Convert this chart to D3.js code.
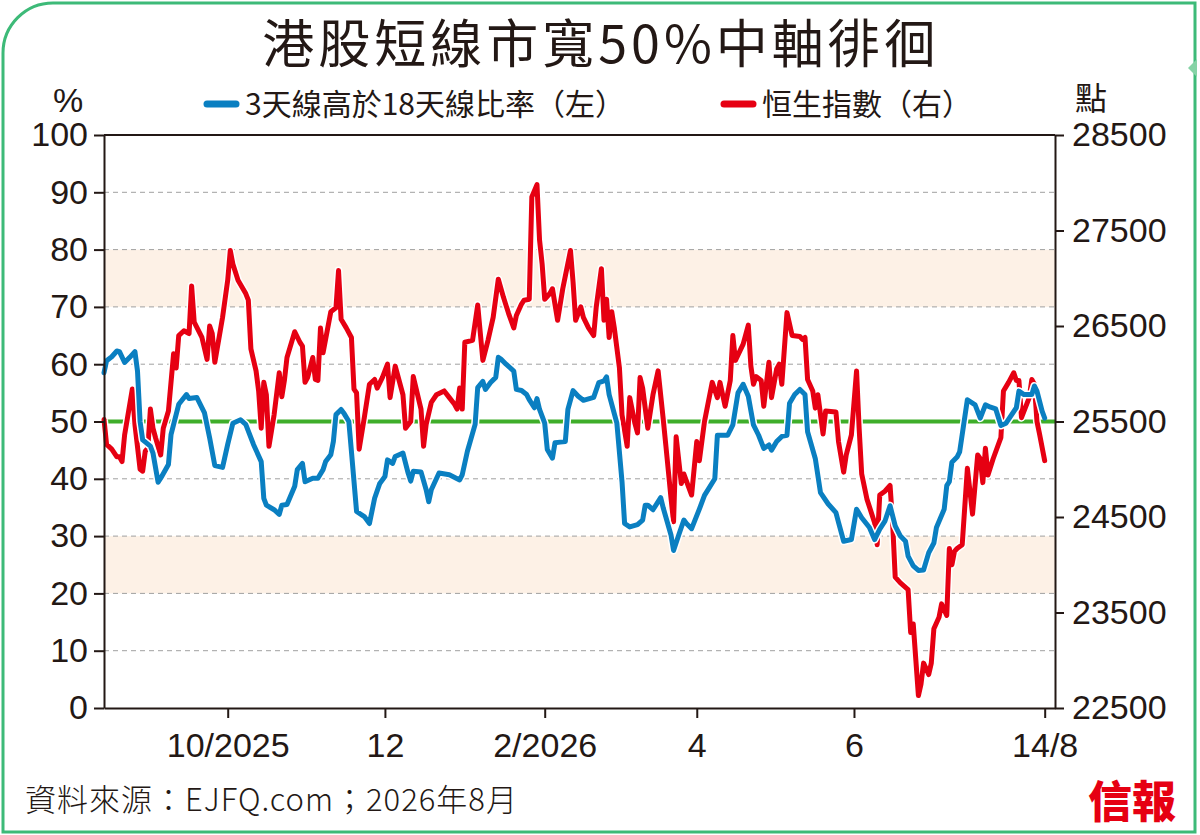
<!DOCTYPE html>
<html>
<head>
<meta charset="utf-8">
<script src="https://cdn.jsdelivr.net/npm/d3@7"></script>
<style>
  body { margin: 0; background: #fff; }
</style>
</head>
<body>
<svg id="chart"></svg>
<script>
// 港股短線市寬 vs 恒指

var titleText = '港股短線市寬50%中軸徘徊';
var legendNames = ['3天線高於18天線比率（左）', '恒生指數（右）'];
var sourceText = '資料來源：EJFQ.com；2026年8月';

var leftTicks = [0, 10, 20, 30, 40, 50, 60, 70, 80, 90, 100];
var rightTicks = [22500, 23500, 24500, 25500, 26500, 27500, 28500];
var xTickDates = ['2025-10-01', '2025-12-01', '2026-02-01', '2026-04-01', '2026-06-01', '2026-08-14'];
var xTickLabels = ['10/2025', '12', '2/2026', '4', '6', '14/8'];
var bands = [[20, 30], [70, 80]];
var midLine = 50;

// 3天線高於18天線比率 (%)
var ratioData = [
  ['2025-08-14',58.5],['2025-08-15',60.6],['2025-08-17',61.3],['2025-08-19',62.3],['2025-08-20',62.2],
  ['2025-08-22',60.3],['2025-08-24',61.2],['2025-08-26',62.2],['2025-08-27',58.8],['2025-08-28',50.0],
  ['2025-08-29',46.8],['2025-09-01',45.7],['2025-09-02',44.5],['2025-09-04',39.4],['2025-09-05',40.1],
  ['2025-09-08',42.5],['2025-09-09',47.7],['2025-09-12',53.0],['2025-09-15',54.7],['2025-09-16',54.0],
  ['2025-09-19',54.2],['2025-09-22',51.5],['2025-09-24',47.1],['2025-09-26',42.3],['2025-09-29',42.0],
  ['2025-10-01',46.0],['2025-10-03',49.7],['2025-10-06',50.3],['2025-10-08',49.5],['2025-10-11',46.0],
  ['2025-10-14',43.0],['2025-10-15',36.6],['2025-10-16',35.4],['2025-10-19',34.6],['2025-10-21',33.8],
  ['2025-10-22',35.4],['2025-10-24',35.5],['2025-10-27',38.7],['2025-10-28',41.6],['2025-10-30',42.7],
  ['2025-10-31',39.5],['2025-11-03',40.1],['2025-11-05',40.1],['2025-11-07',41.6],['2025-11-08',43.0],
  ['2025-11-10',44.2],['2025-11-11',46.5],['2025-11-12',51.2],['2025-11-14',52.1],['2025-11-15',51.5],
  ['2025-11-17',50.0],['2025-11-18',44.8],['2025-11-20',34.3],['2025-11-23',33.4],['2025-11-25',32.2],
  ['2025-11-27',36.6],['2025-11-29',39.2],['2025-12-01',40.4],['2025-12-02',43.3],['2025-12-04',42.7],
  ['2025-12-05',43.9],['2025-12-08',44.5],['2025-12-10',41.0],['2025-12-11',39.6],['2025-12-12',41.3],
  ['2025-12-15',41.2],['2025-12-17',38.1],['2025-12-18',36.0],['2025-12-19',38.1],['2025-12-22',41.0],
  ['2025-12-26',40.7],['2025-12-30',39.8],['2025-12-31',40.7],['2026-01-02',44.8],['2026-01-05',49.5],
  ['2026-01-06',55.9],['2026-01-08',57.0],['2026-01-09',55.6],['2026-01-11',56.8],['2026-01-13',57.7],
  ['2026-01-14',61.2],['2026-01-15',60.9],['2026-01-17',60.0],['2026-01-20',58.8],['2026-01-21',55.6],
  ['2026-01-23',55.4],['2026-01-25',54.7],['2026-01-26',53.8],['2026-01-28',52.4],['2026-01-29',54.0],
  ['2026-01-30',52.1],['2026-02-01',49.7],['2026-02-02',45.1],['2026-02-04',43.6],['2026-02-05',46.3],
  ['2026-02-07',46.4],['2026-02-09',46.5],['2026-02-10',52.1],['2026-02-12',55.4],['2026-02-14',54.4],
  ['2026-02-16',53.7],['2026-02-20',54.2],['2026-02-22',56.8],['2026-02-24',57.1],['2026-02-25',57.8],
  ['2026-02-26',54.7],['2026-03-01',49.7],['2026-03-03',39.5],['2026-03-04',32.2],['2026-03-06',31.6],
  ['2026-03-09',32.0],['2026-03-11',32.8],['2026-03-12',35.4],['2026-03-13',35.4],['2026-03-15',34.6],
  ['2026-03-18',36.7],['2026-03-19',34.9],['2026-03-22',30.2],['2026-03-23',27.5],['2026-03-25',30.2],
  ['2026-03-27',32.8],['2026-03-28',32.2],['2026-03-30',31.3],['2026-04-02',34.7],['2026-04-04',37.1],
  ['2026-04-08',40.0],['2026-04-09',47.6],['2026-04-13',47.6],['2026-04-15',49.4],['2026-04-17',55.0],
  ['2026-04-19',56.5],['2026-04-21',54.4],['2026-04-23',49.4],['2026-04-25',47.6],['2026-04-27',45.3],
  ['2026-04-29',45.9],['2026-04-30',45.0],['2026-05-02',46.5],['2026-05-04',47.4],['2026-05-06',47.6],
  ['2026-05-07',53.2],['2026-05-09',54.7],['2026-05-11',55.6],['2026-05-13',54.7],['2026-05-14',48.2],
  ['2026-05-17',43.5],['2026-05-19',37.6],['2026-05-22',35.6],['2026-05-25',34.1],['2026-05-26',32.4],
  ['2026-05-28',29.1],['2026-05-31',29.4],['2026-06-02',34.7],['2026-06-04',33.2],['2026-06-07',31.5],
  ['2026-06-09',29.4],['2026-06-11',31.2],['2026-06-13',32.6],['2026-06-15',35.3],['2026-06-17',31.8],
  ['2026-06-19',30.0],['2026-06-21',29.1],['2026-06-22',26.5],['2026-06-24',24.8],['2026-06-26',24.0],
  ['2026-06-28',24.1],['2026-06-30',27.1],['2026-07-02',28.8],['2026-07-03',31.5],['2026-07-06',34.7],
  ['2026-07-07',38.8],['2026-07-08',39.5],['2026-07-09',42.9],['2026-07-11',43.8],['2026-07-12',44.7],
  ['2026-07-15',53.8],['2026-07-18',52.9],['2026-07-20',50.6],['2026-07-22',52.9],['2026-07-24',52.5],
  ['2026-07-26',52.2],['2026-07-28',49.3],['2026-07-30',49.7],['2026-08-03',52.4],['2026-08-04',55.3],
  ['2026-08-06',54.7],['2026-08-09',54.7],['2026-08-10',56.2],['2026-08-11',55.3],['2026-08-13',51.8],
  ['2026-08-14',50.6]
];

// 恒生指數 (點)
var hsiData = [
  ['2025-08-14',25520],['2025-08-15',25260],['2025-08-17',25210],['2025-08-19',25130],['2025-08-20',25130],
  ['2025-08-21',25080],['2025-08-22',25360],['2025-08-25',25840],['2025-08-26',25470],['2025-08-28',25000],
  ['2025-08-29',24980],['2025-08-30',25190],['2025-08-31',25220],['2025-09-01',25630],['2025-09-02',25430],
  ['2025-09-03',25330],['2025-09-05',25150],['2025-09-06',25430],['2025-09-08',25610],['2025-09-10',26210],
  ['2025-09-11',26060],['2025-09-12',26400],['2025-09-14',26450],['2025-09-16',26420],['2025-09-17',26920],
  ['2025-09-18',26540],['2025-09-21',26380],['2025-09-23',26150],['2025-09-24',26500],['2025-09-25',26420],
  ['2025-09-26',26120],['2025-09-29',26590],['2025-10-01',26980],['2025-10-02',27290],['2025-10-03',27150],
  ['2025-10-05',26980],['2025-10-08',26840],['2025-10-09',26770],['2025-10-10',26260],['2025-10-12',26030],
  ['2025-10-13',25820],['2025-10-14',25430],['2025-10-15',25910],['2025-10-16',25780],['2025-10-17',25240],
  ['2025-10-19',25570],['2025-10-21',26010],['2025-10-22',25760],['2025-10-23',25930],['2025-10-24',26170],
  ['2025-10-27',26440],['2025-10-29',26330],['2025-10-30',26290],['2025-10-31',25910],['2025-11-01',25960],
  ['2025-11-03',26170],['2025-11-04',25940],['2025-11-05',25930],['2025-11-06',26480],['2025-11-07',26220],
  ['2025-11-10',26650],['2025-11-12',26690],['2025-11-13',27080],['2025-11-14',26570],['2025-11-16',26480],
  ['2025-11-18',26380],['2025-11-19',25840],['2025-11-20',25800],['2025-11-21',25210],['2025-11-23',25540],
  ['2025-11-25',25890],['2025-11-27',25940],['2025-11-28',25850],['2025-11-30',25960],['2025-12-02',26100],
  ['2025-12-03',25750],['2025-12-05',26080],['2025-12-08',25780],['2025-12-09',25430],['2025-12-11',25500],
  ['2025-12-12',25970],['2025-12-15',25630],['2025-12-16',25240],['2025-12-17',25470],['2025-12-19',25700],
  ['2025-12-21',25780],['2025-12-24',25820],['2025-12-26',25750],['2025-12-28',25680],['2025-12-29',25630],
  ['2025-12-30',25850],['2025-12-31',25630],['2026-01-01',26330],['2026-01-04',26350],['2026-01-06',26720],
  ['2026-01-08',26140],['2026-01-10',26350],['2026-01-12',26590],['2026-01-14',26990],['2026-01-16',26800],
  ['2026-01-18',26630],['2026-01-20',26480],['2026-01-21',26610],['2026-01-23',26730],['2026-01-24',26770],
  ['2026-01-26',26780],['2026-01-27',27850],['2026-01-29',27980],['2026-01-30',27400],['2026-01-31',27150],
  ['2026-02-01',26780],['2026-02-03',26840],['2026-02-04',26890],['2026-02-06',26560],['2026-02-08',26890],
  ['2026-02-11',27290],['2026-02-12',26960],['2026-02-13',26560],['2026-02-15',26700],['2026-02-16',26590],
  ['2026-02-18',26480],['2026-02-20',26400],['2026-02-21',26700],['2026-02-23',27100],['2026-02-24',26560],
  ['2026-02-25',26780],['2026-02-26',26380],['2026-02-27',26650],['2026-02-28',26480],['2026-03-02',26060],
  ['2026-03-03',25570],['2026-03-05',25240],['2026-03-06',25750],['2026-03-08',25480],['2026-03-09',25380],
  ['2026-03-10',25960],['2026-03-11',25850],['2026-03-13',25430],['2026-03-15',25780],['2026-03-17',26030],
  ['2026-03-19',25520],['2026-03-20',25250],['2026-03-22',24700],['2026-03-23',24450],['2026-03-24',25340],
  ['2026-03-26',24850],['2026-03-27',24950],['2026-03-30',24730],['2026-04-01',25290],['2026-04-02',25090],
  ['2026-04-04',25500],['2026-04-07',25910],['2026-04-09',25750],['2026-04-10',25910],['2026-04-12',25660],
  ['2026-04-14',25930],['2026-04-15',26400],['2026-04-16',26140],['2026-04-19',26310],['2026-04-21',26510],
  ['2026-04-22',26080],['2026-04-23',25890],['2026-04-24',25970],['2026-04-26',25930],['2026-04-27',25660],
  ['2026-04-29',26120],['2026-04-30',25750],['2026-05-02',26050],['2026-05-03',26100],['2026-05-04',25890],
  ['2026-05-06',26640],['2026-05-08',26400],['2026-05-11',26390],['2026-05-12',26360],['2026-05-13',26380],
  ['2026-05-14',25940],['2026-05-16',25820],['2026-05-17',25640],['2026-05-18',25780],['2026-05-20',25370],
  ['2026-05-21',25610],['2026-05-25',25600],['2026-05-26',25290],['2026-05-28',24970],['2026-05-29',25150],
  ['2026-05-31',25360],['2026-06-02',26030],['2026-06-03',25430],['2026-06-04',24950],['2026-06-06',24690],
  ['2026-06-09',24440],['2026-06-10',24210],['2026-06-11',24730],['2026-06-13',24770],['2026-06-15',24830],
  ['2026-06-16',24440],['2026-06-17',23870],['2026-06-19',23810],['2026-06-22',23740],['2026-06-23',23290],
  ['2026-06-24',23380],['2026-06-26',22630],['2026-06-27',22750],['2026-06-28',22970],['2026-06-30',22850],
  ['2026-07-01',22970],['2026-07-02',23330],['2026-07-04',23450],['2026-07-05',23590],['2026-07-07',23470],
  ['2026-07-08',24170],['2026-07-09',24000],['2026-07-10',24140],['2026-07-11',24170],['2026-07-13',24210],
  ['2026-07-15',25010],['2026-07-17',24530],['2026-07-19',25150],['2026-07-20',25110],['2026-07-21',24860],
  ['2026-07-22',25220],['2026-07-23',24940],['2026-07-25',25110],['2026-07-28',25330],['2026-07-29',25820],
  ['2026-07-31',25910],['2026-08-02',26010],['2026-08-03',25930],['2026-08-04',25930],['2026-08-05',25540],
  ['2026-08-08',25750],['2026-08-09',25940],['2026-08-10',25890],['2026-08-11',25500],['2026-08-12',25370],
  ['2026-08-14',25090]
];

var width = 1200;
var height = 835;
var margin = {top: 135, right: 145, bottom: 127, left: 104};
var plotRight = width - margin.right;
var plotBottom = height - margin.bottom;

var ink = '#231815';
var blue = '#0a7fc1';
var red = '#e60012';
var green = '#3fae2a';
var frameGreen = '#3dba78';
var numFont = '"Liberation Sans", Arial, sans-serif';
var cjkFont = '"Noto Sans CJK TC", "Noto Sans CJK SC", sans-serif';

var parse = d3.timeParse('%Y-%m-%d');

var xScale = d3.scaleTime()
  .domain([parse('2025-08-14'), parse('2026-08-18')])
  .range([margin.left, plotRight]);

var yLeft = d3.scaleLinear()
  .domain([0, 100])
  .range([plotBottom, margin.top]);

var yRight = d3.scaleLinear()
  .domain([22500, 28500])
  .range([plotBottom, margin.top]);

var svg = d3.select('#chart')
  .attr('width', width)
  .attr('height', height);

svg.append('rect')
  .attr('width', width)
  .attr('height', height)
  .attr('fill', '#fff');

// outer frame, rounded top-left corner
var r = 50;
svg.append('path')
  .attr('d', 'M3,832 L3,' + (3 + r) + ' A' + r + ',' + r + ' 0 0 1 ' + (3 + r) + ',3 L1195,3 L1195,832 Z')
  .attr('fill', 'none')
  .attr('stroke', frameGreen)
  .attr('stroke-width', 3);

svg.append('path')
  .attr('d', 'M1197,59 L1188,68 L1197,77 Z')
  .attr('fill', '#86d3a6');

// bands
svg.selectAll('rect.band')
  .data(bands)
  .enter()
  .append('rect')
    .attr('class', 'band')
    .attr('x', margin.left)
    .attr('width', plotRight - margin.left)
    .attr('y', d => yLeft(d[1]))
    .attr('height', d => yLeft(d[0]) - yLeft(d[1]))
    .attr('fill', '#fdf1e6');

// grid
svg.selectAll('line.grid')
  .data(leftTicks.filter(d => d > 0 && d < 100 && d !== midLine))
  .enter()
  .append('line')
    .attr('class', 'grid')
    .attr('x1', margin.left)
    .attr('x2', plotRight)
    .attr('y1', d => yLeft(d))
    .attr('y2', d => yLeft(d))
    .attr('stroke', '#a0a0a0')
    .attr('stroke-width', 1)
    .attr('stroke-dasharray', '5,4');

svg.append('line')
  .attr('x1', margin.left)
  .attr('x2', plotRight)
  .attr('y1', yLeft(midLine))
  .attr('y2', yLeft(midLine))
  .attr('stroke', green)
  .attr('stroke-width', 4);

// lines
var ratioLine = d3.line()
  .x(d => xScale(parse(d[0])))
  .y(d => yLeft(d[1]));

var hsiLine = d3.line()
  .x(d => xScale(parse(d[0])))
  .y(d => yRight(d[1]));

function drawSeries(data, gen, colour) {
  svg.append('path')
    .datum(data)
    .attr('d', gen)
    .attr('fill', 'none')
    .attr('stroke', '#fff')
    .attr('stroke-width', 8)
    .attr('stroke-linejoin', 'round');
  svg.append('path')
    .datum(data)
    .attr('d', gen)
    .attr('fill', 'none')
    .attr('stroke', colour)
    .attr('stroke-width', 5)
    .attr('stroke-linejoin', 'round')
    .attr('stroke-linecap', 'round');
}

drawSeries(hsiData, hsiLine, red);
drawSeries(ratioData, ratioLine, blue);

// axes
function styleAxis(g) {
  g.selectAll('path.domain').attr('stroke', ink).attr('stroke-width', 2);
  g.selectAll('.tick line').attr('stroke', ink).attr('stroke-width', 2);
  g.selectAll('.tick text')
    .attr('fill', ink)
    .style('font-family', numFont)
    .style('font-size', '34px');
}

var leftAxis = svg.append('g')
  .attr('transform', 'translate(' + margin.left + ',0)')
  .call(d3.axisLeft(yLeft).tickValues(leftTicks).tickSize(10).tickSizeOuter(0).tickPadding(6));
styleAxis(leftAxis);

var rightAxis = svg.append('g')
  .attr('transform', 'translate(' + plotRight + ',0)')
  .call(d3.axisRight(yRight)
    .tickValues(rightTicks)
    .tickFormat(d3.format('d'))
    .tickSize(9)
    .tickSizeOuter(0)
    .tickPadding(8));
styleAxis(rightAxis);

var xAxis = svg.append('g')
  .attr('transform', 'translate(0,' + plotBottom + ')')
  .call(d3.axisBottom(xScale)
    .tickValues(xTickDates.map(parse))
    .tickFormat((d, i) => xTickLabels[i])
    .tickSize(10)
    .tickSizeOuter(0)
    .tickPadding(15));
styleAxis(xAxis);

svg.append('line')
  .attr('x1', margin.left)
  .attr('x2', plotRight)
  .attr('y1', margin.top)
  .attr('y2', margin.top)
  .attr('stroke', ink)
  .attr('stroke-width', 2);

// title
svg.append('text')
  .attr('x', 601)
  .attr('y', 63)
  .attr('text-anchor', 'middle')
  .style('font-family', cjkFont)
  .style('font-size', '52px')
  .style('letter-spacing', '4px')
  .attr('fill', ink)
  .text(titleText);

// unit labels
svg.append('text')
  .attr('x', 68)
  .attr('y', 112)
  .attr('text-anchor', 'middle')
  .style('font-family', numFont)
  .style('font-size', '34px')
  .attr('fill', ink)
  .text('%');

svg.append('text')
  .attr('x', 1075)
  .attr('y', 110)
  .style('font-family', cjkFont)
  .style('font-size', '32px')
  .attr('fill', ink)
  .text('點');

// legend
var legendItems = [
  {name: legendNames[0], colour: blue, x: 207},
  {name: legendNames[1], colour: red, x: 724}
];

var legend = svg.selectAll('g.legend')
  .data(legendItems)
  .enter()
  .append('g')
    .attr('class', 'legend')
    .attr('transform', d => 'translate(' + d.x + ',104)');

legend.append('line')
  .attr('x1', 0)
  .attr('x2', 29)
  .attr('stroke', d => d.colour)
  .attr('stroke-width', 7)
  .attr('stroke-linecap', 'round');

legend.append('text')
  .attr('x', 38)
  .attr('y', 11)
  .style('font-family', cjkFont)
  .style('font-size', '30px')
  .attr('fill', ink)
  .text(d => d.name);

// source + logo
svg.append('text')
  .attr('x', 25)
  .attr('y', 811)
  .style('font-family', cjkFont)
  .style('font-size', '31px')
  .style('font-weight', 300)
  .style('letter-spacing', '1px')
  .attr('fill', ink)
  .text(sourceText);

svg.append('text')
  .attr('x', 1088)
  .attr('y', 818)
  .style('font-family', cjkFont)
  .style('font-size', '44px')
  .style('font-weight', 900)
  .attr('fill', red)
  .text('信報');
</script>
</body>
</html>
